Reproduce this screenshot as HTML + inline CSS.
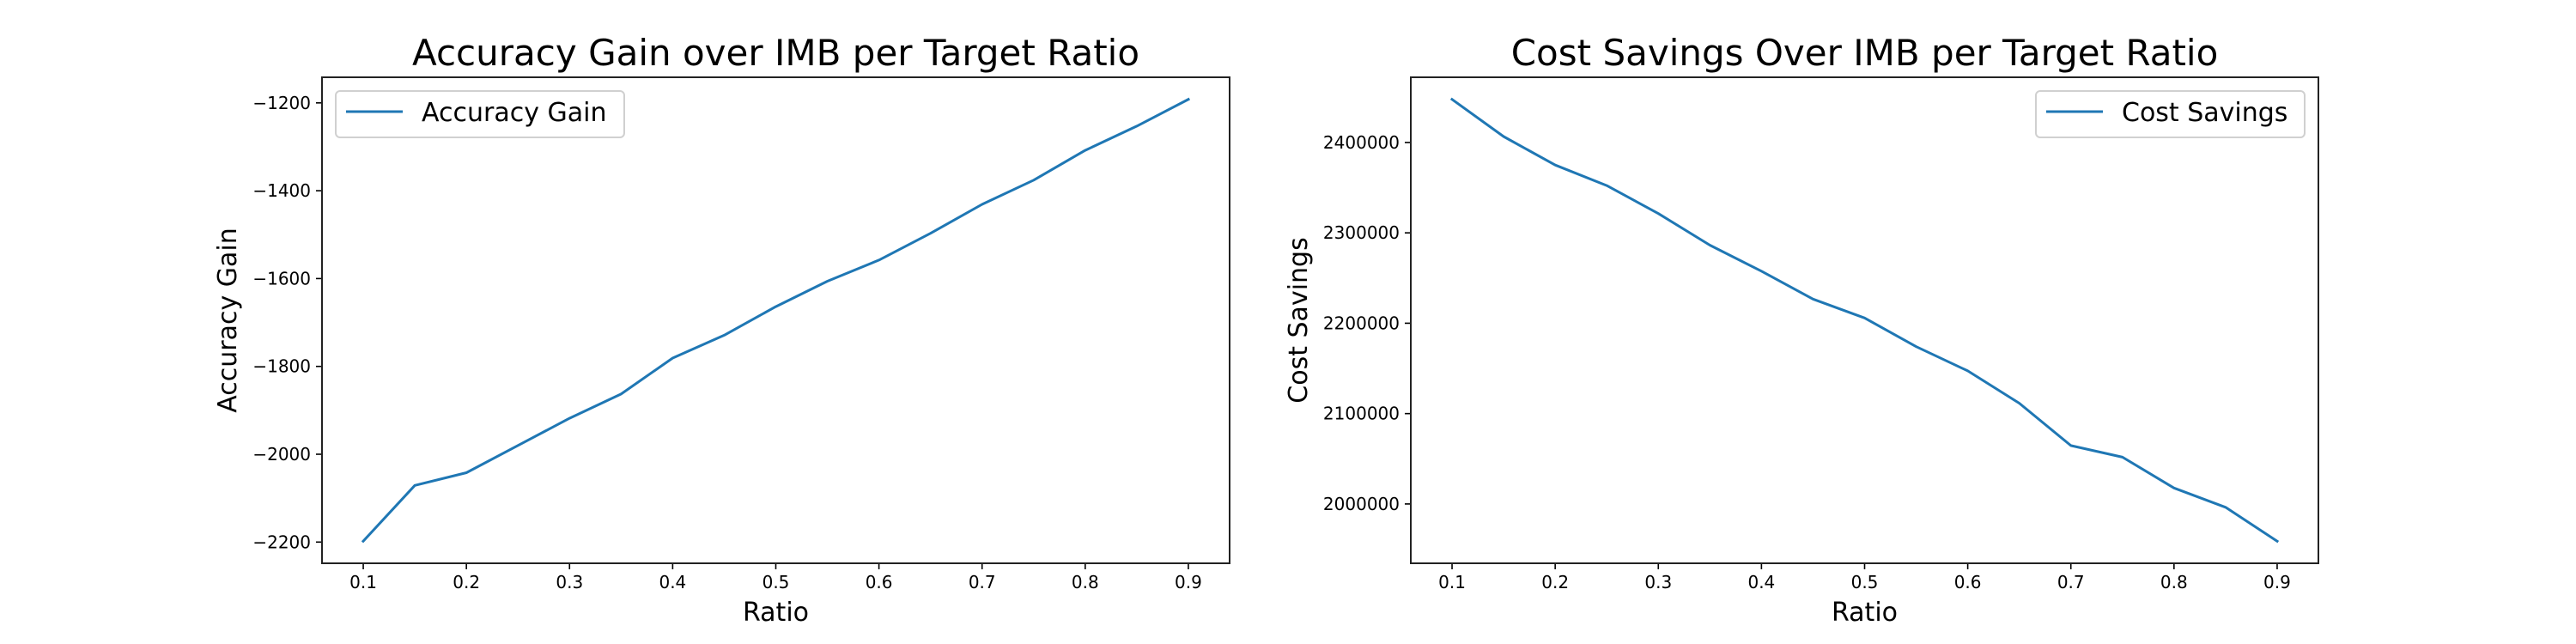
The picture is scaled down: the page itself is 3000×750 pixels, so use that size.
<!DOCTYPE html>
<html><head><meta charset="utf-8"><style>
body{margin:0;background:#fff}
svg{display:block}
text{font-family:"DejaVu Sans","Liberation Sans",sans-serif;fill:#000}
</style></head><body>
<svg id="fig" width="3000" height="750"></svg>
<script>
const ratios=[0.1,0.15,0.2,0.25,0.3,0.35,0.4,0.45,0.5,0.55,0.6,0.65,0.7,0.75,0.8,0.85,0.9];
const accuracyGain=[-2198,-2071,-2042,-1980,-1918,-1863,-1781,-1729,-1664,-1606,-1558,-1497,-1431,-1376,-1308,-1253,-1192];
const costSavings=[2447700,2406600,2375000,2352300,2321400,2286400,2257600,2226700,2205800,2174100,2147300,2111500,2064600,2051800,2017700,1996300,1958800];
const xTicks=[0.1,0.2,0.3,0.4,0.5,0.6,0.7,0.8,0.9];
const accTicks=[-2200,-2000,-1800,-1600,-1400,-1200];
const costTicks=[2000000,2100000,2200000,2300000,2400000];

const NS='http://www.w3.org/2000/svg';
const svg=document.getElementById('fig');
function mk(tag,attrs,parent){const e=document.createElementNS(NS,tag);for(const k in attrs)e.setAttribute(k,attrs[k]);(parent||svg).appendChild(e);return e;}

function panel(cfg){
  const g=mk('g',{});
  
  
  const L=cfg.x0,R=cfg.x1,T=90,B=656;
  const xmin=Math.min(...ratios),xmax=Math.max(...ratios),xp=(xmax-xmin)*0.05;
  const ys=cfg.values,ymin=Math.min(...ys),ymax=Math.max(...ys),yp=(ymax-ymin)*0.05;
  const sx=v=>L+(v-(xmin-xp))/((xmax+xp)-(xmin-xp))*(R-L);
  const sy=v=>B-(v-(ymin-yp))/((ymax+yp)-(ymin-yp))*(B-T);
  xTicks.forEach(t=>{
    const tk=mk('line',{x1:sx(t),x2:sx(t),y1:B,y2:B+7,stroke:'#000','stroke-width':1.6},g);
    
    
    const tl=mk('text',{x:sx(t),y:B+29,'text-anchor':'middle','font-size':20},g);
    tl.textContent=t.toFixed(1);
    
    
  });
  cfg.ticks.forEach(t=>{
    const tk=mk('line',{x1:L-7,x2:L,y1:sy(t),y2:sy(t),stroke:'#000','stroke-width':1.6},g);
    
    
    const tl=mk('text',{x:L-13,y:sy(t)+7,'text-anchor':'end','font-size':20},g);
    tl.textContent=t<0?'\u2212'+Math.abs(t):String(t);
    
    
  });
  const pts=ratios.map((r,i)=>sx(r).toFixed(1)+','+sy(ys[i]).toFixed(1)).join(' ');
  const line=mk('polyline',{points:pts,fill:'none',stroke:'#1f77b4','stroke-width':3,'stroke-linejoin':'round','stroke-linecap':'square'},g);
  
  
  const frame=mk('rect',{x:L,y:T,width:R-L,height:B-T,fill:'none',stroke:'#222','stroke-width':2},g);
  
  
  const title=mk('text',{x:(L+R)/2,y:76,'text-anchor':'middle','font-size':42},g);
  title.textContent=cfg.title;
  
  
  const xl=mk('text',{x:(L+R)/2,y:723,'text-anchor':'middle','font-size':30},g);
  xl.textContent='Ratio';
  
  
  const yl=mk('text',{x:0,y:0,'text-anchor':'middle','font-size':30,transform:'translate('+cfg.ylx+',373) rotate(-90)'},g);
  yl.textContent=cfg.ylabel;
  
  
  const lg=mk('g',{},g);
  
  
  mk('rect',{x:cfg.lgx,y:106,width:cfg.lgw,height:54,rx:5,fill:'#fff',stroke:'#d0d0d0','stroke-width':2},lg);
  mk('line',{x1:cfg.lgx+12,x2:cfg.lgx+78,y1:130,y2:130,stroke:'#1f77b4','stroke-width':3},lg);
  const lt=mk('text',{x:cfg.lgx+100,y:141,'font-size':30},lg);
  lt.textContent=cfg.legend;
  
  
}
panel({name:'accuracy-gain-chart',x0:375,x1:1432,values:accuracyGain,ticks:accTicks,title:'Accuracy Gain over IMB per Target Ratio',ylabel:'Accuracy Gain',ylx:275,lgx:391,lgw:336,legend:'Accuracy Gain',seriesName:'accuracy-gain-line'});
panel({name:'cost-savings-chart',x0:1643,x1:2700,values:costSavings,ticks:costTicks,title:'Cost Savings Over IMB per Target Ratio',ylabel:'Cost Savings',ylx:1522,lgx:2371,lgw:313,legend:'Cost Savings',seriesName:'cost-savings-line'});
</script>
</body></html>
